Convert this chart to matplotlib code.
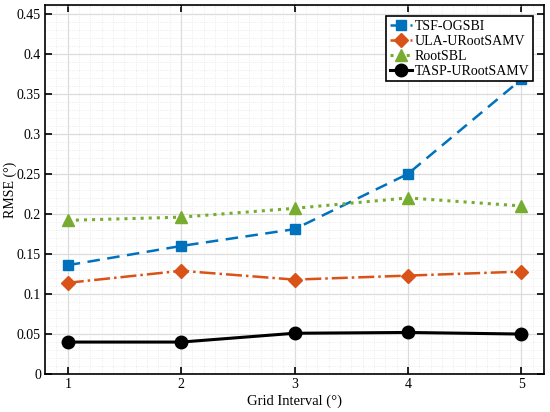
import matplotlib
matplotlib.use("Agg")
import matplotlib.pyplot as plt
from matplotlib.ticker import MultipleLocator

grid_interval = [1, 2, 3, 4, 5]
tsf_ogsbi = [0.136, 0.160, 0.181, 0.250, 0.368]
ula_urootsamv = [0.114, 0.129, 0.118, 0.123, 0.128]
rootsbl = [0.192, 0.196, 0.207, 0.220, 0.210]
tasp_urootsamv = [0.040, 0.040, 0.051, 0.052, 0.050]

plt.rcParams['font.family'] = ['Liberation Serif', 'DejaVu Serif']

fig = plt.figure(figsize=(5.5, 4.12), dpi=100)
ax = fig.add_axes([0.082, 0.092, 0.907, 0.896])

ax.plot(grid_interval, tsf_ogsbi, color='#0072BD', ls=(0, (5, 3)), lw=1.8,
        marker='s', ms=7, label='TSF-OGSBI')
ax.plot(grid_interval, ula_urootsamv, color='#D95319', ls='-.', lw=1.8,
        marker='D', ms=7, label='ULA-URootSAMV')
ax.plot(grid_interval, rootsbl, color='#77AC30', ls=':', lw=2.2,
        marker='^', ms=9, label='RootSBL')
ax.plot(grid_interval, tasp_urootsamv, color='black', ls='-', lw=2.2,
        marker='o', ms=9, label='TASP-URootSAMV')

ax.set_xlim(0.8, 5.2)
ax.set_ylim(0, 0.461)
ax.set_xticks(grid_interval)
ax.set_yticks([0, 0.05, 0.1, 0.15, 0.2, 0.25, 0.3, 0.35, 0.4, 0.45])
ax.set_yticklabels(['0', '0.05', '0.1', '0.15', '0.2', '0.25', '0.3', '0.35', '0.4', '0.45'])
ax.xaxis.set_minor_locator(MultipleLocator(0.1))
ax.yaxis.set_minor_locator(MultipleLocator(0.01))

ax.grid(True, which='major', color='#dcdcdc', lw=0.9, ls='-')
ax.grid(True, which='minor', color='#e6e6e6', lw=0.6, ls=':')
ax.set_axisbelow(True)

ax.tick_params(which='major', direction='in', length=5, width=1.2,
               top=True, right=True, labelsize=10, pad=3)
ax.tick_params(which='minor', length=0, top=True, right=True)
for s in ax.spines.values():
    s.set_linewidth(1.2)

ax.set_xlabel('Grid Interval (°)', fontsize=10.5, labelpad=2)
ax.set_ylabel('RMSE (°)', fontsize=10)
ax.yaxis.set_label_coords(-0.056, 0.5)

leg = ax.legend(loc='upper right', fontsize=10, handlelength=1.6,
                handletextpad=0.2, borderpad=0.25, labelspacing=0.15,
                fancybox=False, framealpha=1, borderaxespad=0.8)
leg.get_frame().set_edgecolor('black')
leg.get_frame().set_linewidth(1.2)

fig.savefig('out.png', dpi=100)
